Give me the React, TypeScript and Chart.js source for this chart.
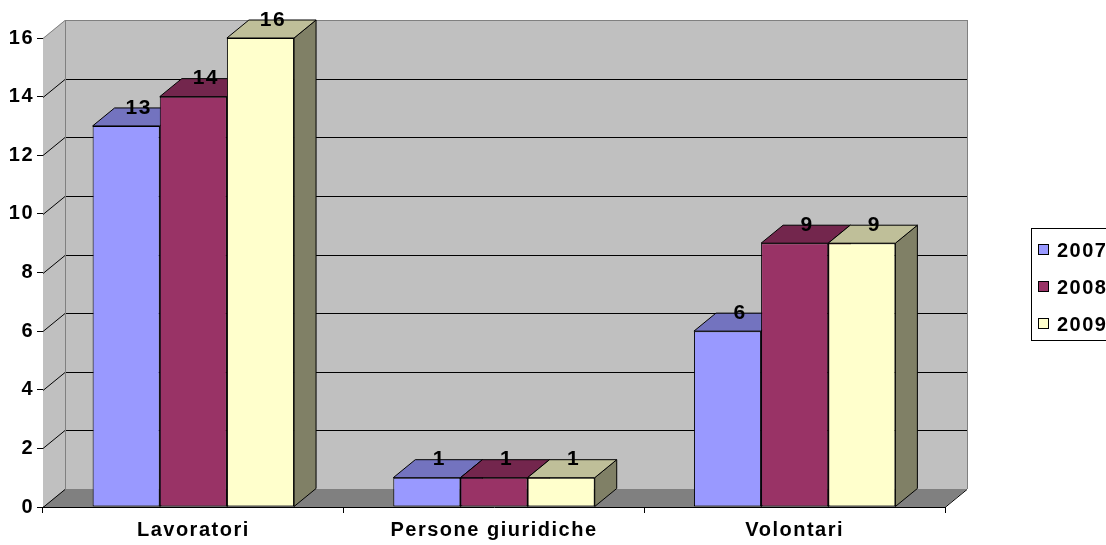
import React, { useEffect, useRef } from 'react';
import { Chart, registerables } from 'chart.js';

Chart.register(...registerables);

const categories = ['Lavoratori', 'Persone giuridiche', 'Volontari'];
const seriesLabels = ['2007', '2008', '2009'];
const values2007 = [13, 1, 6];
const values2008 = [14, 1, 9];
const values2009 = [16, 1, 9];
const seriesValues = [values2007, values2008, values2009];
const frontColors = ['#9999FF', '#993366', '#FFFFCC'];
const yMin = 0;
const yMax = 16;
const yStep = 2;

const FONT = "'Liberation Sans', Arial, sans-serif";
const DX = 22;
const DY = -18;

function shade(hex: string, f: number): string {
  const n = parseInt(hex.slice(1), 16);
  const r = Math.round(((n >> 16) & 255) * f);
  const g = Math.round(((n >> 8) & 255) * f);
  const b = Math.round((n & 255) * f);
  return `rgb(${r},${g},${b})`;
}

function poly(ctx: CanvasRenderingContext2D, pts: number[][], fill: string | null, stroke: string | null) {
  ctx.beginPath();
  ctx.moveTo(pts[0][0], pts[0][1]);
  for (let i = 1; i < pts.length; i++) ctx.lineTo(pts[i][0], pts[i][1]);
  ctx.closePath();
  if (fill) {
    ctx.fillStyle = fill;
    ctx.fill();
  }
  if (stroke) {
    ctx.strokeStyle = stroke;
    ctx.lineWidth = 1;
    ctx.stroke();
  }
}

const threeD = {
  id: 'threeD',
  beforeDraw(chart: any) {
    chart.ctx.letterSpacing = '1.5px';
  },
  beforeDatasetsDraw(chart: any) {
    const ctx: CanvasRenderingContext2D = chart.ctx;
    const { left, right, top, bottom } = chart.chartArea;
    const y = chart.scales.y;
    ctx.save();
    // back wall
    poly(ctx, [[left + DX, top + DY], [right + DX, top + DY], [right + DX, bottom + DY], [left + DX, bottom + DY]], '#C0C0C0', null);
    // left wall
    poly(ctx, [[left, top], [left + DX, top + DY], [left + DX, bottom + DY], [left, bottom]], '#C0C0C0', null);
    // floor
    poly(ctx, [[left, bottom], [left + DX, bottom + DY], [right + DX, bottom + DY], [right, bottom]], '#808080', null);
    // grid lines
    ctx.lineWidth = 1;
    y.ticks.forEach((t: any) => {
      const py = Math.round(y.getPixelForValue(t.value)) + 0.5;
      ctx.strokeStyle = t.value === yMax ? '#808080' : '#000000';
      ctx.beginPath();
      ctx.moveTo(left, py);
      ctx.lineTo(left + DX, py + DY);
      if (t.value !== yMin) ctx.lineTo(right + DX, py + DY);
      ctx.stroke();
    });
    // wall edges
    ctx.strokeStyle = '#808080';
    ctx.beginPath();
    ctx.moveTo(left + DX + 0.5, top + DY);
    ctx.lineTo(left + DX + 0.5, bottom + DY);
    ctx.moveTo(right + DX + 0.5, top + DY);
    ctx.lineTo(right + DX + 0.5, bottom + DY);
    ctx.stroke();
    ctx.strokeStyle = '#000000';
    ctx.beginPath();
    ctx.moveTo(right, bottom + 0.5);
    ctx.lineTo(right + DX, bottom + DY + 0.5);
    ctx.stroke();
    // bar tops and sides
    const n = categories.length;
    for (let i = 0; i < n; i++) {
      for (let d = 0; d < chart.data.datasets.length; d++) {
        const el = chart.getDatasetMeta(d).data[i];
        const x0 = el.x - el.width / 2;
        const x1 = el.x + el.width / 2;
        const yt = el.y;
        const yb = el.base;
        const c = frontColors[d];
        poly(ctx, [[x1, yt], [x1 + DX, yt + DY], [x1 + DX, yb + DY], [x1, yb]], shade(c, 0.5), '#000000');
        poly(ctx, [[x0, yt], [x0 + DX, yt + DY], [x1 + DX, yt + DY], [x1, yt]], shade(c, 0.75), '#000000');
      }
    }
    ctx.restore();
  },
  afterDatasetsDraw(chart: any) {
    const ctx: CanvasRenderingContext2D = chart.ctx;
    ctx.save();
    ctx.font = `bold 21px ${FONT}`;
    ctx.fillStyle = '#000000';
    ctx.textAlign = 'center';
    ctx.textBaseline = 'middle';
    chart.data.datasets.forEach((ds: any, d: number) => {
      chart.getDatasetMeta(d).data.forEach((el: any, i: number) => {
        ctx.fillText(String(ds.data[i]), el.x + DX / 2 + 1.5, el.y - 18);
      });
    });
    ctx.restore();
  },
  afterDraw(chart: any) {
    const ctx: CanvasRenderingContext2D = chart.ctx;
    ctx.save();
    ctx.strokeStyle = '#000000';
    ctx.lineWidth = 1;
    ctx.fillStyle = '#FFFFFF';
    ctx.fillRect(1031.5, 228.5, 110, 112);
    ctx.strokeRect(1031.5, 228.5, 110, 112);
    ctx.font = `bold 20px ${FONT}`;
    ctx.textAlign = 'left';
    ctx.textBaseline = 'middle';
    seriesLabels.forEach((lab, k) => {
      const cy = 250 + k * 37;
      ctx.fillStyle = frontColors[k];
      ctx.fillRect(1038.5, cy - 5.5, 10, 10);
      ctx.strokeRect(1038.5, cy - 5.5, 10, 10);
      ctx.fillStyle = '#000000';
      ctx.fillText(lab, 1057, cy + 1);
    });
    ctx.restore();
  },
};

export default function App() {
  const ref = useRef<HTMLCanvasElement | null>(null);
  useEffect(() => {
    if (!ref.current) return;
    const chart = new Chart(ref.current, {
      type: 'bar',
      data: {
        labels: categories,
        datasets: seriesLabels.map((lab, d) => ({
          label: lab,
          data: seriesValues[d],
          backgroundColor: frontColors[d],
          borderColor: '#000000',
          borderWidth: 1,
          borderSkipped: false,
          categoryPercentage: 0.67,
          barPercentage: 1,
        })),
      },
      options: {
        responsive: false,
        animation: false,
        layout: { padding: { top: 38, right: 161, left: 0, bottom: 0 } },
        plugins: { legend: { display: false }, tooltip: { enabled: false } },
        scales: {
          x: {
            afterFit: (s: any) => { s.height = 38; },
            grid: { display: true, drawOnChartArea: false, drawTicks: true, tickLength: 6, color: '#000000', offset: true },
            border: { display: true, color: '#000000', width: 1 },
            ticks: { color: '#000000', font: { family: FONT, size: 20, weight: 'bold' }, padding: 5, maxRotation: 0 },
          },
          y: {
            min: yMin,
            max: yMax,
            afterFit: (s: any) => { s.width = 43; },
            grid: { display: true, drawOnChartArea: false, drawTicks: true, tickLength: 6, color: '#000000' },
            border: { display: true, color: '#000000', width: 1 },
            ticks: { stepSize: yStep, color: '#000000', font: { family: FONT, size: 20, weight: 'bold' }, padding: 3 },
          },
        },
      },
      plugins: [threeD],
    } as any);
    return () => chart.destroy();
  }, []);
  return (
    <div style={{ position: 'fixed', left: 0, top: 0, width: 1106, height: 545, background: '#FFFFFF' }}>
      <canvas ref={ref} width={1106} height={545} style={{ display: 'block' }} />
    </div>
  );
}
